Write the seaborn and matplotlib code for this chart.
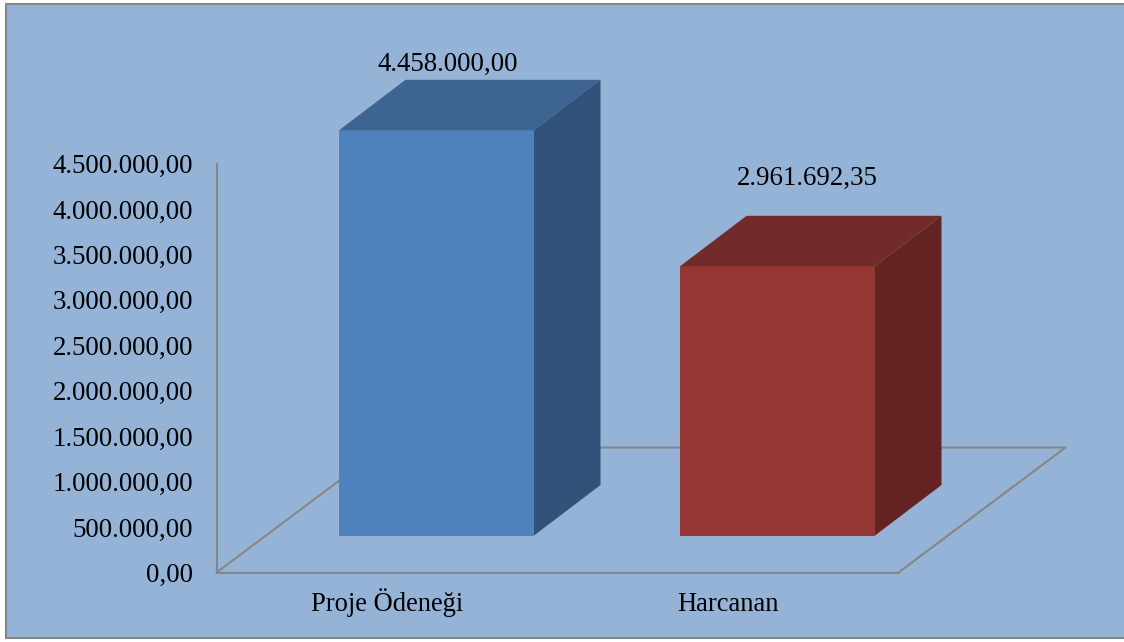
import matplotlib
matplotlib.use("Agg")
import matplotlib.pyplot as plt
import pandas as pd
import seaborn as sns
from matplotlib.patches import Polygon, Rectangle

# values
categories = ["Proje Ödeneği", "Harcanan"]
amounts = [4458000.00, 2961692.35]
value_labels = ["4.458.000,00", "2.961.692,35"]
yticks = [0, 500000, 1000000, 1500000, 2000000, 2500000, 3000000, 3500000, 4000000, 4500000]
ytick_labels = ["0,00", "500.000,00", "1.000.000,00", "1.500.000,00", "2.000.000,00",
                "2.500.000,00", "3.000.000,00", "3.500.000,00", "4.000.000,00", "4.500.000,00"]

front_colors = ["#4F81BD", "#943634"]
top_colors = ["#3E6491", "#722B2A"]
side_colors = ["#31537A", "#622322"]
bg = "#95B3D7"
line_col = "#868686"

# data label placement, px from the front top centre of each bar
label_dx = [11.5, 29.5]
label_dy = [59, 81]

W, H = 1124, 642

sns.set_theme(style="white")
plt.rcParams["font.family"] = ["Liberation Serif", "DejaVu Serif"]

fig = plt.figure(figsize=(W / 100, H / 100), dpi=100, facecolor="white")
# chart frame runs off the right side of the picture
fig.add_artist(Rectangle((6.5 / W, 1 - 637.5 / H), 1130 / W, 634 / H, transform=fig.transFigure,
                         facecolor=bg, edgecolor=line_col, linewidth=1.5, zorder=-1))

ax = fig.add_axes([216.5 / W, 1 - 572.5 / H, 682 / W, 409 / H])
ax.patch.set_alpha(0)

# px scale of the axes, used for the fake depth
ymax = 4500000
px_x = 2 / 682
px_y = ymax / 409

df = pd.DataFrame({"cat": categories, "amount": amounts})
sns.barplot(data=df, x="cat", y="amount", hue="cat", palette=front_colors, saturation=1,
            width=195 * px_x, bottom=37 * px_y, legend=False, linewidth=0, ax=ax, zorder=3)
ax.set_xlim(-0.5, 1.5)
ax.set_ylim(0, ymax)

# bars sit forward of the category centre
depth_x, depth_y = 66.5 * px_x, 50.5 * px_y
bars = list(ax.patches)
for i, bar in enumerate(bars):
    bar.set_x(bar.get_x() + 49.5 * px_x)
    bar.set_clip_on(False)
    x0, x1 = bar.get_x(), bar.get_x() + bar.get_width()
    y0, y1 = bar.get_y(), bar.get_y() + bar.get_height()
    ax.add_patch(Polygon([(x0, y1), (x1, y1), (x1 + depth_x, y1 + depth_y), (x0 + depth_x, y1 + depth_y)],
                         facecolor=top_colors[i], edgecolor="none", clip_on=False, zorder=3))
    ax.add_patch(Polygon([(x1, y0), (x1, y1), (x1 + depth_x, y1 + depth_y), (x1 + depth_x, y0 + depth_y)],
                         facecolor=side_colors[i], edgecolor="none", clip_on=False, zorder=3))
    ax.text((x0 + x1) / 2 + label_dx[i] * px_x, y1 + label_dy[i] * px_y, value_labels[i],
            ha="center", va="baseline", fontsize=19.4, color="black", clip_on=False)

# floor of the 3d box
floor_x, floor_y = 167 * px_x, 125 * px_y
ax.plot([-0.5, -0.5 + floor_x, 1.5 + floor_x, 1.5], [0, floor_y, floor_y, 0],
        color=line_col, lw=1.5, clip_on=False, zorder=1)

sns.despine(ax=ax, top=True, right=True)
for side in ["left", "bottom"]:
    ax.spines[side].set_color(line_col)
    ax.spines[side].set_linewidth(1.5)

ax.set_yticks(yticks)
ax.set_yticklabels(ytick_labels)
ax.tick_params(axis="y", length=0, pad=17, labelsize=19.4, labelcolor="black")
ax.tick_params(axis="x", length=0, pad=27.7, labelsize=19.1, labelcolor="black")
for lab in ax.get_xticklabels():
    lab.set_verticalalignment("baseline")
ax.set_xlabel("")
ax.set_ylabel("")

fig.savefig("out.png", dpi=100, facecolor=fig.get_facecolor())
